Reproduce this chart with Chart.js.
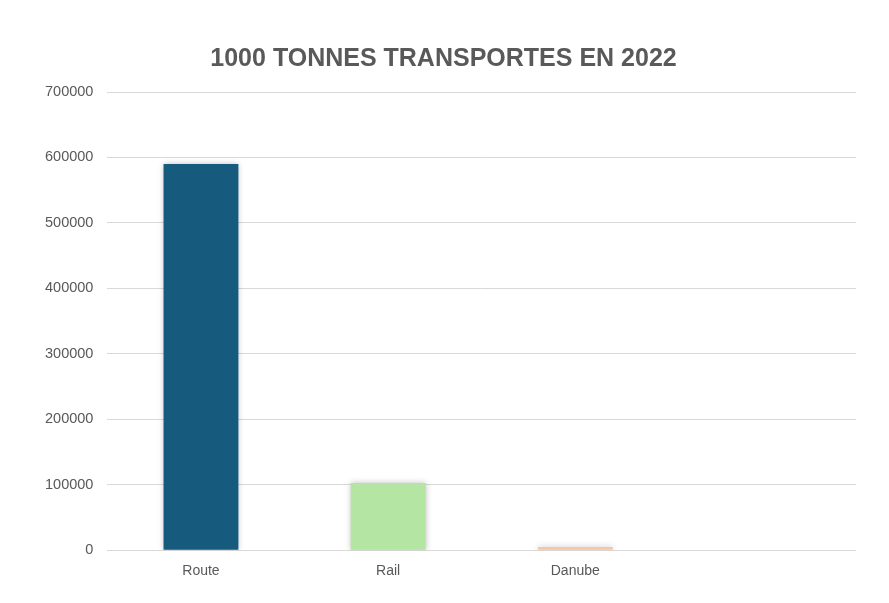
<!DOCTYPE html>
<html>
<head>
<meta charset="utf-8">
<script src="https://cdn.jsdelivr.net/npm/chart.js@4/dist/chart.umd.min.js"></script>
<style>
  html, body { margin: 0; padding: 0; background: #fff; }
  #wrap { width: 889px; height: 603px; }
</style>
</head>
<body>
<div id="wrap"><canvas id="chart"></canvas></div>
<script>
const categories = ["Route", "Rail", "Danube", ""];
const tonnes = [590000, 102500, 5000, null];
const barColors = ["#165b7d", "#b4e5a2", "#f7c5a4", "#cccccc"];
const yTicks = [0, 100000, 200000, 300000, 400000, 500000, 600000, 700000];

// soft shadow behind the bars
const barShadow = {
    id: "barShadow",
    beforeDatasetsDraw(chart) {
        const ctx = chart.ctx;
        ctx.save();
        ctx.shadowColor = "rgba(0,0,0,0.25)";
        ctx.shadowBlur = 6;
    },
    afterDatasetsDraw(chart) {
        chart.ctx.restore();
    }
};

new Chart("chart", {
    type: "bar",
    data: {
        labels: categories,
        datasets: [{
            backgroundColor: barColors,
            data: tonnes,
            barPercentage: 0.4,
            categoryPercentage: 1
        }]
    },
    plugins: [barShadow],
    options: {
        responsive: true,
        maintainAspectRatio: false,
        animation: false,
        layout: { padding: { left: 31, right: 33, top: 14, bottom: 18 } },
        plugins: {
            legend: { display: false },
            tooltip: { enabled: false },
            title: {
                display: true,
                text: "1000 TONNES TRANSPORTES EN 2022",
                color: "#595959",
                font: { family: "Liberation Sans", size: 25, weight: "bold" },
                padding: { top: 30, bottom: 18 }
            }
        },
        scales: {
            x: {
                grid: { display: false },
                border: { display: false },
                ticks: {
                    color: "#595959",
                    font: { family: "Liberation Sans", size: 14 },
                    padding: 5
                }
            },
            y: {
                min: 0,
                max: 700000,
                afterBuildTicks(axis) {
                    axis.ticks = yTicks.map(v => ({ value: v }));
                },
                grid: { color: "#d9d9d9", drawTicks: false },
                border: { display: false },
                ticks: {
                    color: "#595959",
                    font: { family: "Liberation Sans", size: 14.5 },
                    padding: 14,
                    callback: v => String(v)
                }
            }
        }
    }
});
</script>
</body>
</html>
